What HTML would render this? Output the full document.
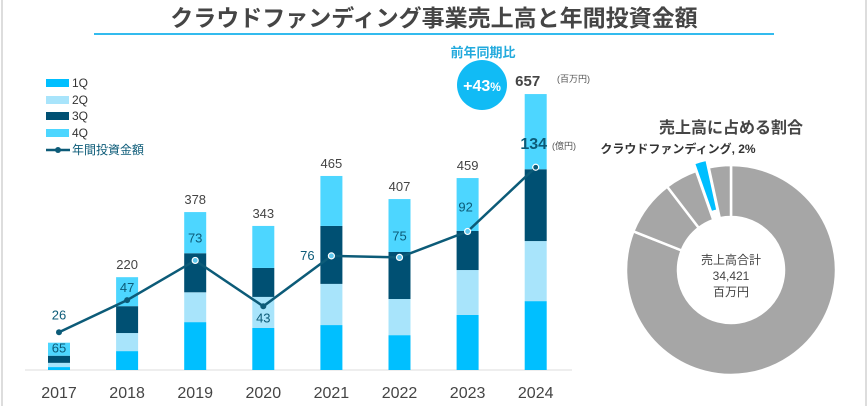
<!DOCTYPE html>
<html><head><meta charset="utf-8"><style>
body{margin:0;background:#fff;}
svg{display:block;font-family:"Liberation Sans","Noto Sans CJK JP",sans-serif;}
</style></head><body>
<svg id="c" width="868" height="406" viewBox="0 0 868 406">
<line x1="2" y1="0" x2="2" y2="406" stroke="#ddd" stroke-width="2"/>
<line x1="866" y1="0" x2="866" y2="406" stroke="#ddd" stroke-width="2"/>
<text x="434" y="26" text-anchor="middle" font-size="23" font-weight="bold" fill="#454545">クラウドファンディング事業売上高と年間投資金額</text>
<line x1="94" y1="34" x2="774" y2="34" stroke="#33bbee" stroke-width="2"/>
<text x="483" y="57" text-anchor="middle" font-size="13" font-weight="bold" fill="#22aadd">前年同期比</text>
<circle cx="482" cy="85" r="25" fill="#11bbf5"/>
<text x="482" y="91" text-anchor="middle" font-size="16" font-weight="bold" fill="#fff">+43<tspan font-size="12">%</tspan></text>
<g>
<rect x="46" y="79" width="23" height="8" fill="#00bfff"/><text x="72" y="87" font-size="12" fill="#333">1Q</text>
<rect x="46" y="96" width="23" height="8" fill="#a8e4fb"/><text x="72" y="104" font-size="12" fill="#333">2Q</text>
<rect x="46" y="112" width="23" height="8" fill="#005073"/><text x="72" y="120" font-size="12" fill="#333">3Q</text>
<rect x="46" y="129" width="23" height="8" fill="#4dd6ff"/><text x="72" y="137" font-size="12" fill="#333">4Q</text>
<line x1="46" y1="150" x2="70" y2="150" stroke="#0c5b78" stroke-width="2.5"/><circle cx="58" cy="150" r="3" fill="#0c5b78"/>
<text x="72" y="154" font-size="12" fill="#0c5b78">年間投資金額</text>
</g>
<line x1="25" y1="370" x2="572" y2="370" stroke="#ddd" stroke-width="1"/>
<g id="bars"></g><g id="line"></g><g id="donut"></g>
<text x="731" y="133" text-anchor="middle" font-size="16" font-weight="bold" fill="#454545">売上高に占める割合</text>
<text x="678" y="153" text-anchor="middle" font-size="12" font-weight="bold" fill="#333">クラウドファンディング, 2%</text>
<text x="731" y="264" text-anchor="middle" font-size="12" fill="#444">売上高合計</text>
<text x="731" y="280" text-anchor="middle" font-size="12" fill="#444">34,421</text>
<text x="731" y="296" text-anchor="middle" font-size="12" fill="#444">百万円</text>
</svg>
<script>
const years=["2017","2018","2019","2020","2021","2022","2023","2024"];
const q1=[7,45,114,100,107,83,131,164];
const q2=[10,43,71,74,98,86,107,143];
const q3=[17,64,93,69,138,112,93,171];
const q4=[31,69,98,100,119,126,126,179];
const totals=["65","220","378","343","465","407","459","657"];
const invest=[26,47,73,43,76,75,92,134];
const donutVals=[81,8.6,5,2,3.4];
const NS="http://www.w3.org/2000/svg";
function mk(t,a,p){const e=document.createElementNS(NS,t);for(const k in a)e.setAttribute(k,a[k]);p.appendChild(e);return e;}
const bx=i=>59+i*68.1, by=v=>370-v*0.42, ly=v=>372-v*1.528;
const bars=document.getElementById('bars');
const cols=["#00bfff","#a8e4fb","#005073","#4dd6ff"], qs=[q1,q2,q3,q4];
years.forEach((y,i)=>{let acc=0;
 qs.forEach((s,k)=>{const r=mk('rect',{x:bx(i)-11,y:by(acc+s[i]),width:22,height:s[i]*0.42,fill:cols[k]},bars);
 
 
 acc+=s[i];});
 const last=i==7;
 const t=mk('text',{x:bx(i)+(last?-8:0),y:i==0?by(acc)+10:by(acc)-8,'text-anchor':'middle','font-size':last?15:13,'font-weight':last?'bold':'normal',fill:i==0?'#0c5b78':'#444'},bars);
 t.textContent=totals[i];
 
 
 const yl=mk('text',{x:bx(i),y:398,'text-anchor':'middle','font-size':16,fill:'#444'},bars);
 yl.textContent=y;
 
 
});
const u1=mk('text',{x:557,y:82,'font-size':9,fill:'#555'},bars);u1.textContent='(百万円)';


const lg=document.getElementById('line');
const pl=mk('polyline',{points:invest.map((v,i)=>bx(i)+','+ly(v)).join(' '),fill:'none',stroke:'#0c5b78','stroke-width':2.5},lg);


const hollow=[2,4,5,6];
invest.forEach((v,i)=>{const c=mk('circle',{cx:bx(i),cy:ly(v),r:3,fill:hollow.includes(i)?'#5fc8ee':'#0c5b78',stroke:hollow.includes(i)||i==7?'#fff':'none','stroke-width':1.2},lg);
 
 
 let dx=0,dy=-10;
 if(i==3)dy=16; if(i==4){dx=-24;dy=4;} if(i==6){dx=-2;dy=-20;} if(i==5)dy=-17; if(i==2)dy=-18; if(i==1)dy=-8;if(i==0)dy=-13; if(i==7){dx=-2;dy=-18;}
 const t=mk('text',{x:bx(i)+dx,y:ly(v)+dy,'text-anchor':'middle','font-size':i==7?16:13,'font-weight':i==7?'bold':'normal',fill:'#0c5b78'},lg);
 t.textContent=v;
 
 
});
const u2=mk('text',{x:552,y:149,'font-size':9,fill:'#555'},lg);u2.textContent='(億円)';


const dg=document.getElementById('donut');
const cx=731,cy=270,R=105,r0=53;let a0=0;const tot=donutVals.reduce((a,b)=>a+b,0);
function pt(a,rad,ox,oy){const t=a*Math.PI/180;return[cx+ox+rad*Math.sin(t),cy+oy-rad*Math.cos(t)];}
donutVals.forEach((v,i)=>{const a1=a0+v/tot*360;let ox=0,oy=0;
 if(i==3){const m=(a0+a1)/2*Math.PI/180;ox=8*Math.sin(m);oy=-8*Math.cos(m);}
 const p1=pt(a0,R,ox,oy),p2=pt(a1,R,ox,oy),p3=pt(a1,r0,ox,oy),p4=pt(a0,r0,ox,oy),lf=(a1-a0)>180?1:0;
 const p=mk('path',{d:`M${p1}A${R},${R} 0 ${lf} 1 ${p2}L${p3}A${r0},${r0} 0 ${lf} 0 ${p4}Z`,fill:i==3?'#00bfff':'#a6a6a6',stroke:'#fff','stroke-width':2.5},dg);
 
 
 a0=a1;});
</script>
</body></html>
